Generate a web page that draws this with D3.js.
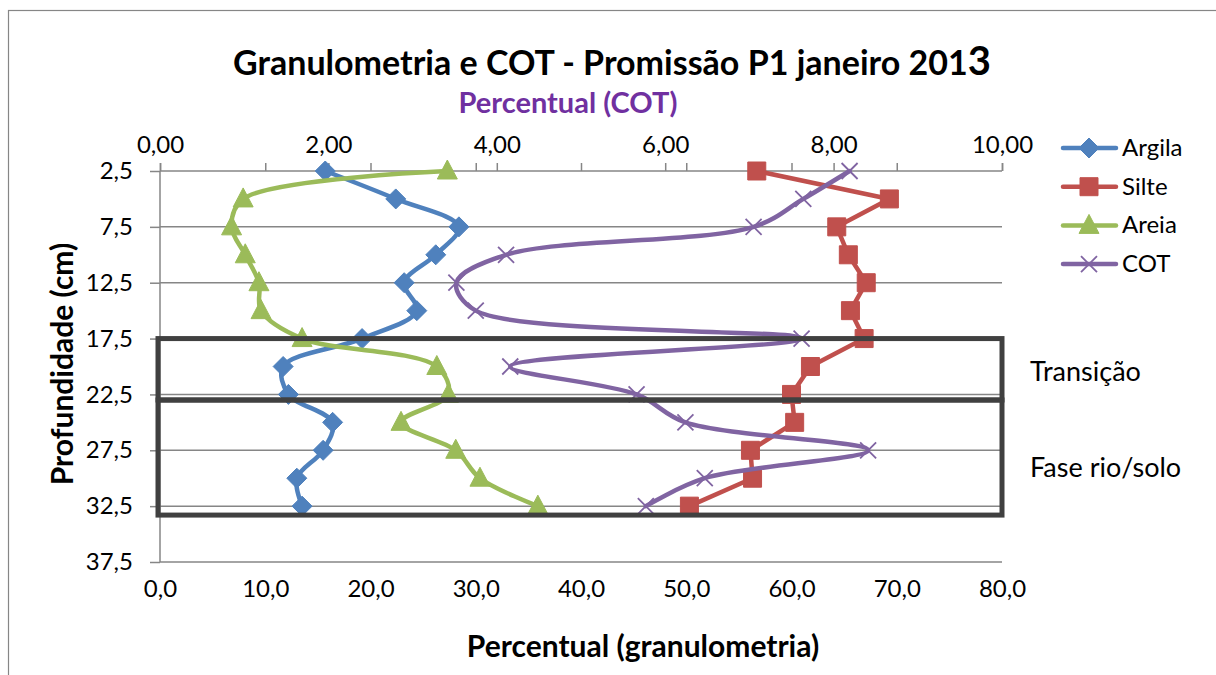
<!DOCTYPE html>
<meta charset="utf-8">
<style>
body { margin: 0; background: #fff; }
svg text { font-family: Lato, "Open Sans", sans-serif; fill: #000; }
.axis path { display: none; }
.axis line { stroke: #868686; stroke-width: 1.5px; }
.axis text { font-size: 24px; }
.grid line { stroke: #868686; stroke-width: 1.5px; }
.zone { fill: none; stroke: #404040; stroke-width: 5px; }
</style>
<body>
<div id="main"></div>
<script src="https://d3js.org/d3.v7.min.js"></script>
<script>
// depth of each sample (cm)
var depths = [2.5, 5, 7.5, 10, 12.5, 15, 17.5, 20, 22.5, 25, 27.5, 30, 32.5];

// granulometry (%)
var argila = [15.7, 22.4, 28.4, 26.2, 23.2, 24.4, 19.2, 11.7, 12.2, 16.4, 15.5, 13.0, 13.5];
var silte  = [56.7, 69.3, 64.3, 65.4, 67.1, 65.6, 66.9, 61.8, 60.0, 60.3, 56.1, 56.3, 50.3];
var areia  = [27.3, 7.9, 6.8, 8.1, 9.4, 9.6, 13.5, 26.3, 27.4, 22.9, 28.1, 30.4, 35.9];

// carbono organico total (%)
var cot = [8.19, 7.64, 7.05, 4.11, 3.52, 3.75, 7.62, 4.16, 5.66, 6.24, 8.41, 6.47, 5.77];

var depthTicks = [2.5, 7.5, 12.5, 17.5, 22.5, 27.5, 32.5, 37.5];
var granTicks = [0, 10, 20, 30, 40, 50, 60, 70, 80];
var cotTicks = [0, 2, 4, 6, 8, 10];

// boxes drawn over the profile
var zoneNames = ["Transição", "Fase rio/solo"];
var zoneTop = [17.5, 23.0];
var zoneBottom = [23.0, 33.3];

var svg = d3.select("#main").append("svg")
	.attr("width", 1216)
	.attr("height", 675);

var locale = d3.formatLocale({decimal: ",", thousands: ".", grouping: [3], currency: ["", ""]});
var f1 = locale.format(".1f"), f2 = locale.format(".2f");

var x = d3.scaleLinear().domain([0, 80]).range([160, 1002]);
var x2 = d3.scaleLinear().domain([0, 10]).range([160, 1002]);
var y = d3.scaleLinear().domain([2.5, 37.5]).range([171, 562]);

// outer chart border
svg.append("rect")
	.attr("x", 8.5).attr("y", 10.5)
	.attr("width", 1240).attr("height", 700)
	.attr("fill", "none").attr("stroke", "#868686").attr("stroke-width", 1.2);

// title
var title = svg.append("text")
	.attr("x", 612).attr("y", 75)
	.attr("text-anchor", "middle")
	.style("font-size", "34px").style("font-weight", "bold");
title.append("tspan").text("Granulometria e COT - Promissão P1 janeiro 201");
title.append("tspan").style("font-size", "40px").text("3");

// horizontal gridlines
svg.append("g").attr("class", "grid")
	.selectAll("line").data(depthTicks).enter().append("line")
	.attr("x1", 160).attr("x2", 1002)
	.attr("y1", function(d) { return y(d); })
	.attr("y2", function(d) { return y(d); });

// left axis
svg.append("g").attr("class", "axis")
	.attr("transform", "translate(160,0)")
	.call(d3.axisLeft(y).tickValues(depthTicks).tickSize(10).tickPadding(17).tickFormat(f1));
svg.append("line")
	.attr("x1", 160).attr("x2", 160).attr("y1", 171).attr("y2", 562)
	.attr("stroke", "#868686").attr("stroke-width", 1.5);

// primary horizontal axis crosses at top, labels at bottom
svg.append("g").attr("class", "axis")
	.attr("transform", "translate(0,171)")
	.call(d3.axisTop(x).tickValues(granTicks).tickSize(8).tickFormat(""));
svg.append("g").attr("class", "axis")
	.attr("transform", "translate(0,576)")
	.call(d3.axisBottom(x).tickValues(granTicks).tickSize(0).tickPadding(4).tickFormat(f1));

// secondary axis (COT) on top
svg.append("g").attr("class", "axis")
	.attr("transform", "translate(0,171)")
	.call(d3.axisTop(x2).tickValues(cotTicks).tickSize(8).tickPadding(10).tickFormat(f2));

// axis titles
svg.append("text")
	.attr("x", 568).attr("y", 113)
	.attr("text-anchor", "middle")
	.style("font-size", "29px").style("font-weight", "bold")
	.style("fill", "#7030A0")
	.text("Percentual (COT)");

svg.append("text")
	.attr("x", 643).attr("y", 657)
	.attr("text-anchor", "middle")
	.style("font-size", "30px").style("font-weight", "bold")
	.text("Percentual (granulometria)");

svg.append("text")
	.attr("transform", "translate(73,364) rotate(-90)")
	.attr("text-anchor", "middle")
	.style("font-size", "30px").style("font-weight", "bold")
	.text("Profundidade (cm)");

// series
var series = [
	{name: "Argila", values: argila, scale: x, color: "#4F81BD", marker: "diamond", smooth: true},
	{name: "Silte", values: silte, scale: x, color: "#C0504D", marker: "square", smooth: false},
	{name: "Areia", values: areia, scale: x, color: "#9BBB59", marker: "triangle", smooth: true},
	{name: "COT", values: cot, scale: x2, color: "#8064A2", marker: "x", smooth: true}
];

function markerPath(type) {
	if (type == "diamond") return "M0,-10L10,0L0,10L-10,0Z";
	if (type == "square") return "M-9,-9H9V9H-9Z";
	if (type == "triangle") return "M0,-11L10,8H-10Z";
	return "M-8,-8L8,8M-8,8L8,-8";
}

function drawMarker(g, s, cx, cy) {
	var p = g.append("path")
		.attr("d", markerPath(s.marker))
		.attr("transform", "translate(" + cx + "," + cy + ")");
	if (s.marker == "x") {
		p.attr("fill", "none").attr("stroke", s.color).attr("stroke-width", 1.8);
	} else {
		p.attr("fill", s.color).attr("stroke", s.color).attr("stroke-width", 1);
	}
}

series.forEach(function(s) {
	var line = d3.line()
		.x(function(d) { return s.scale(d[0]); })
		.y(function(d) { return y(d[1]); })
		.curve(s.smooth ? d3.curveCatmullRom.alpha(0.5) : d3.curveLinear);
	var pts = s.values.map(function(v, i) { return [v, depths[i]]; });
	var g = svg.append("g");
	g.append("path")
		.attr("d", line(pts))
		.attr("fill", "none")
		.attr("stroke", s.color)
		.attr("stroke-width", 4.5)
		.attr("stroke-linejoin", "round")
		.attr("stroke-linecap", "round");
	pts.forEach(function(p) { drawMarker(g, s, s.scale(p[0]), y(p[1])); });
});

// zone boxes and labels
var labelY = [381, 477];
zoneNames.forEach(function(name, i) {
	svg.append("rect").attr("class", "zone")
		.attr("x", 158).attr("width", 844)
		.attr("y", y(zoneTop[i]))
		.attr("height", y(zoneBottom[i]) - y(zoneTop[i]));
	svg.append("text")
		.attr("x", 1030)
		.attr("y", labelY[i])
		.style("font-size", "27px")
		.text(name);
});

// legend
var legend = svg.append("g");
series.forEach(function(s, i) {
	var ly = 148 + i * 38.7;
	legend.append("line")
		.attr("x1", 1063).attr("x2", 1116)
		.attr("y1", ly).attr("y2", ly)
		.attr("stroke", s.color).attr("stroke-width", 4.5)
		.attr("stroke-linecap", "round");
	drawMarker(legend, s, 1089, ly);
	legend.append("text")
		.attr("x", 1122).attr("y", ly + 8)
		.style("font-size", "24px")
		.text(s.name);
});
</script>
</body>
